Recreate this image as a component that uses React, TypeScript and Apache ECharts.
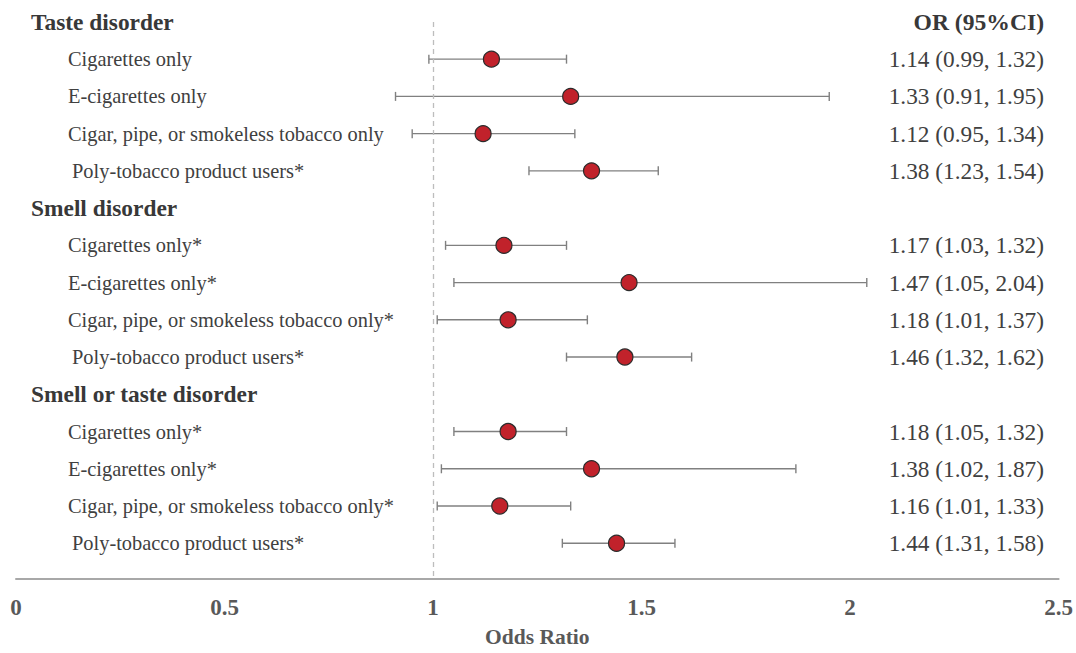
import React, { useEffect, useRef } from "react";
import * as echarts from "echarts";

const rowLabels = [
  "Taste disorder",
  "Cigarettes only",
  "E-cigarettes only",
  "Cigar, pipe, or smokeless tobacco only",
  "Poly-tobacco product users*",
  "Smell disorder",
  "Cigarettes only*",
  "E-cigarettes only*",
  "Cigar, pipe, or smokeless tobacco only*",
  "Poly-tobacco product users*",
  "Smell or taste disorder",
  "Cigarettes only*",
  "E-cigarettes only*",
  "Cigar, pipe, or smokeless tobacco only*",
  "Poly-tobacco product users*",
];
const isHeader = [true, false, false, false, false, true, false, false, false, false, true, false, false, false, false];
const orValues: (number | null)[] = [null, 1.14, 1.33, 1.12, 1.38, null, 1.17, 1.47, 1.18, 1.46, null, 1.18, 1.38, 1.16, 1.44];
const ciLower: (number | null)[] = [null, 0.99, 0.91, 0.95, 1.23, null, 1.03, 1.05, 1.01, 1.32, null, 1.05, 1.02, 1.01, 1.31];
const ciUpper: (number | null)[] = [null, 1.32, 1.95, 1.34, 1.54, null, 1.32, 2.04, 1.37, 1.62, null, 1.32, 1.87, 1.33, 1.58];
const rightHeader = "OR (95%CI)";
const xTicks = { min: 0, max: 2.5, interval: 0.5 };
const xTitle = "Odds Ratio";
const referenceOR = 1;

const FONT = "'Liberation Serif', 'Times New Roman', serif";

export default function App() {
  const ref = useRef<HTMLDivElement>(null);
  useEffect(() => {
    if (!ref.current) return;
    const chart = echarts.init(ref.current, null, { renderer: "svg" });

    const rightTexts = rowLabels.map((_, i) => {
      if (i === 0) return rightHeader;
      const o = orValues[i];
      if (o == null) return "";
      return `${o.toFixed(2)} (${(ciLower[i] as number).toFixed(2)}, ${(ciUpper[i] as number).toFixed(2)})`;
    });

    const errData: number[][] = [];
    const ptData: number[][] = [];
    orValues.forEach((o, i) => {
      if (o == null) return;
      errData.push([ciLower[i] as number, ciUpper[i] as number, i]);
      ptData.push([o, i]);
    });

    const option: any = {
      animation: false,
      grid: { left: 16, right: 17, top: 3.3, bottom: 70, containLabel: false },
      xAxis: {
        type: "value",
        min: xTicks.min,
        max: xTicks.max,
        interval: xTicks.interval,
        axisLine: { show: true, onZero: false, lineStyle: { color: "#a8a8a8", width: 2 } },
        axisTick: { show: false },
        splitLine: { show: false },
        axisLabel: {
          margin: 17,
          color: "#595959",
          fontFamily: FONT,
          fontWeight: "bold",
          fontSize: 23,
        },
        name: xTitle,
        nameLocation: "middle",
        nameGap: 47,
        nameTextStyle: { color: "#595959", fontFamily: FONT, fontWeight: "bold", fontSize: 21.5 },
      },
      yAxis: { type: "value", inverse: true, min: -0.5, max: 14.96, show: false },
      series: [
        {
          type: "custom",
          silent: true,
          clip: false,
          data: rowLabels.map((_, i) => [0, i]),
          encode: { x: 0, y: 1 },
          renderItem: (params: any, api: any) => {
            const i = api.value(1);
            const y = api.coord([0, i])[1];
            const header = isHeader[i];
            const label = rowLabels[i];
            const lx = header ? 31 : label.startsWith("Poly") ? 72 : 68;
            const children: any[] = [
              {
                type: "text",
                x: lx,
                y,
                style: {
                  text: label,
                  fontFamily: FONT,
                  fontSize: header ? 23.4 : 20.4,
                  fontWeight: header ? "bold" : "normal",
                  fill: header ? "#383838" : "#404040",
                  align: "left",
                  verticalAlign: "middle",
                },
              },
            ];
            if (rightTexts[i]) {
              children.push({
                type: "text",
                x: 1044,
                y,
                style: {
                  text: rightTexts[i],
                  fontFamily: FONT,
                  fontSize: i === 0 ? 23.6 : 23.3,
                  fontWeight: i === 0 ? "bold" : "normal",
                  fill: i === 0 ? "#383838" : "#404040",
                  align: "right",
                  verticalAlign: "middle",
                },
              });
            }
            return { type: "group", children };
          },
          z: 1,
        },
        {
          type: "custom",
          silent: true,
          data: errData,
          encode: { x: [0, 1], y: 2 },
          renderItem: (params: any, api: any) => {
            const lo = api.coord([api.value(0), api.value(2)]);
            const hi = api.coord([api.value(1), api.value(2)]);
            const style = { stroke: "#808080", lineWidth: 1.4 };
            const h = 4.5;
            return {
              type: "group",
              children: [
                { type: "line", shape: { x1: lo[0], y1: lo[1], x2: hi[0], y2: hi[1] }, style },
                { type: "line", shape: { x1: lo[0], y1: lo[1] - h, x2: lo[0], y2: lo[1] + h }, style },
                { type: "line", shape: { x1: hi[0], y1: hi[1] - h, x2: hi[0], y2: hi[1] + h }, style },
              ],
            };
          },
          z: 2,
        },
        {
          type: "scatter",
          data: ptData,
          symbol: "circle",
          symbolSize: 16,
          itemStyle: { color: "#c1222b", borderColor: "#2b2b2b", borderWidth: 1.2, opacity: 1 },
          z: 3,
          markLine: {
            silent: true,
            symbol: "none",
            label: { show: false },
            lineStyle: { color: "#bdbdbd", type: [5, 4], width: 1.3 },
            data: [[{ coord: [referenceOR, 0] }, { coord: [referenceOR, 14.96] }]],
          },
        },
      ],
    };
    chart.setOption(option);
    return () => chart.dispose();
  }, []);
  return (
    <div
      ref={ref}
      style={{ position: "fixed", left: 0, top: 0, width: 1076, height: 653, background: "#ffffff" }}
    />
  );
}
